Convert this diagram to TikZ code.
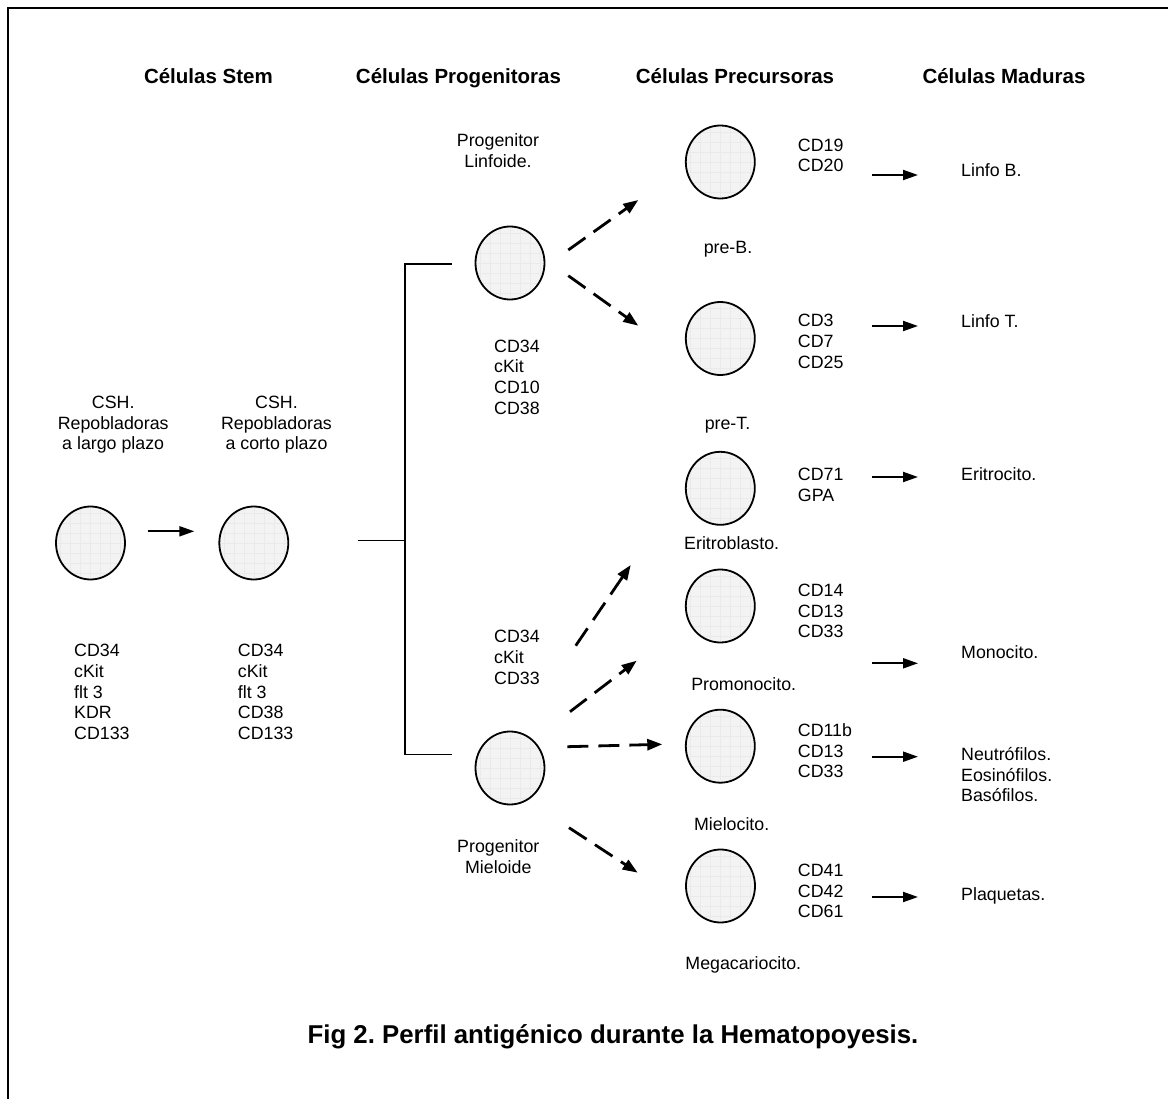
\documentclass[tikz,border=0pt]{standalone}
\usepackage{fontspec}
\setmainfont{Liberation Sans}
\usetikzlibrary{arrows.meta,shapes.geometric}
\definecolor{cellfill}{RGB}{243,243,243}
\definecolor{cellgrid}{RGB}{234,234,234}
\frenchspacing

\begin{document}
\begin{tikzpicture}[x=1pt,y=-1pt,
  cell/.style={ellipse, draw, line width=1.8pt, fill=cellfill,
    minimum width=69pt, minimum height=73pt, inner sep=0pt,
    path picture={\draw[cellgrid, line width=0.5pt, step=10pt]
      (path picture bounding box.south west) grid (path picture bounding box.north east);}},
  lbl/.style={inner sep=0pt, font=\fontsize{17.8}{20.6}\selectfont},
  lleft/.style={lbl, anchor=west, align=left},
  lcenter/.style={lbl, anchor=center, align=center},
  head/.style={inner sep=0pt, anchor=base, font=\fontsize{20.5}{24}\selectfont\bfseries},
  flow/.style={line width=2pt, -{Triangle[length=15pt,width=10pt]}},
  dflow/.style={line width=2.8pt, dash pattern=on 21pt off 10pt,
    -{Triangle[length=15pt,width=11pt]}},
  link/.style={line width=1.6pt}
]
\useasboundingbox (0,0) rectangle (1168,1099);
\clip (0,0) rectangle (1168,1099);

% outer frame
\draw[line width=2pt] (8.3,1120) |- (1190,8.3);

% column headings
\node[head] (hStem) at (208.4,83.3) {Células Stem};
\node[head] (hProg) at (458.5,83.3) {Células Progenitoras};
\node[head] (hPrec) at (735,83.3) {Células Precursoras};
\node[head] (hMad)  at (1004,83.3) {Células Maduras};

% stem cells
\node[cell] (stemA) at (90.5,543) {};
\node[cell] (stemB) at (253.8,543) {};
\node[lcenter] (tStemA) at (113.2,425) {CSH.\\Repobladoras\\a largo plazo};
\node[lcenter] (tStemB) at (276.5,425) {CSH.\\Repobladoras\\a corto plazo};
\node[lleft] (mStemA) at (74,692) {CD34\\cKit\\flt 3\\KDR\\CD133};
\node[lleft] (mStemB) at (237.7,692) {CD34\\cKit\\flt 3\\CD38\\CD133};
\coordinate (sa) at (147.7,531.3);
\coordinate (sb) at (194.3,531.3);
\draw[flow] (sa) -- (sb);

% bracket towards the two progenitors
\coordinate (bIn) at (357.7,540.3);
\coordinate (bMid) at (404.7,540.3);
\coordinate (bTop) at (452,264.3);
\coordinate (bBot) at (452,754.3);
\draw[link] (bIn) -- (bMid);
\draw[link] (bTop) -| (bMid) |- (bBot);

% progenitors
\node[cell] (linf) at (510,263) {};
\node[cell] (miel) at (510,768) {};
\node[lcenter] (tLinf) at (498,150.5) {Progenitor\\Linfoide.};
\node[lleft] (mLinf) at (494,377) {CD34\\cKit\\CD10\\CD38};
\node[lleft] (mMiel) at (494,657.4) {CD34\\cKit\\CD33};
\node[lcenter] (tMiel) at (498.3,856.7) {Progenitor\\Mieloide};

% precursors
\node[cell] (preB)  at (720.3,162) {};
\node[cell] (preT)  at (720.3,338.5) {};
\node[cell] (erit)  at (720.3,488.3) {};
\node[cell] (promo) at (720.3,606) {};
\node[cell] (mielo) at (720.3,746.2) {};
\node[cell] (mega)  at (720.5,886) {};
\node[lcenter] (tPreB)  at (728,248.9) {pre-B.};
\node[lcenter] (tPreT)  at (727.5,424.9) {pre-T.};
\node[lcenter] (tErit)  at (731.7,543.3) {Eritroblasto.};
\node[lcenter] (tPromo) at (743.7,684) {Promonocito.};
\node[lcenter] (tMielo) at (731.7,824) {Mielocito.};
\node[lcenter] (tMega)  at (743.3,965.2) {Megacariocito.};
\node[lleft] (mPreB)  at (797.7,155.5) {CD19\\CD20};
\node[lleft] (mPreT)  at (797.7,341.4) {CD3\\CD7\\CD25};
\node[lleft] (mErit)  at (797.7,484.7) {CD71\\GPA};
\node[lleft] (mPromo) at (797.7,611) {CD14\\CD13\\CD33};
\node[lleft] (mMielo) at (797.7,750.7) {CD11b\\CD13\\CD33};
\node[lleft] (mMega)  at (797.7,891) {CD41\\CD42\\CD61};

% dashed differentiation arrows
\coordinate (d1a) at (568.3,250);   \coordinate (d1b) at (638.3,200);
\coordinate (d2a) at (568.3,275.7); \coordinate (d2b) at (638.3,325.7);
\coordinate (d3a) at (575.7,645.7); \coordinate (d3b) at (630.7,565);
\coordinate (d4a) at (570,711.7);   \coordinate (d4b) at (636.7,660.7);
\coordinate (d5a) at (567.3,746.7); \coordinate (d5b) at (662.3,744.3);
\coordinate (d6a) at (569,827.7);   \coordinate (d6b) at (637.7,872.7);
\draw[dflow] (d1a) -- (d1b);
\draw[dflow] (d2a) -- (d2b);
\draw[dflow] (d3a) -- (d3b);
\draw[dflow] (d4a) -- (d4b);
\draw[dflow] (d5a) -- (d5b);
\draw[dflow] (d6a) -- (d6b);

% mature cells
\node[lleft] (fB)    at (961,170) {Linfo B.};
\node[lleft] (fT)    at (961,321) {Linfo T.};
\node[lleft] (fE)    at (961,474) {Eritrocito.};
\node[lleft] (fMono) at (961,651.7) {Monocito.};
\node[lleft] (fGran) at (961,774.7) {Neutrófilos.\\Eosinófilos.\\Basófilos.};
\node[lleft] (fPlaq) at (961,895.6) {Plaquetas.};

\foreach \n/\yy in {1/175, 2/326, 3/477, 4/663.3, 5/756.7, 6/897}{
  \coordinate (r\n a) at (872,\yy);
  \coordinate (r\n b) at (918,\yy);
  \draw[flow] (r\n a) -- (r\n b);
}

% caption
\node[inner sep=0pt, anchor=base, font=\fontsize{25.8}{30}\selectfont\bfseries] (title)
  at (613,1043) {Fig 2. Perfil antigénico durante la Hematopoyesis.};
\end{tikzpicture}
\end{document}
